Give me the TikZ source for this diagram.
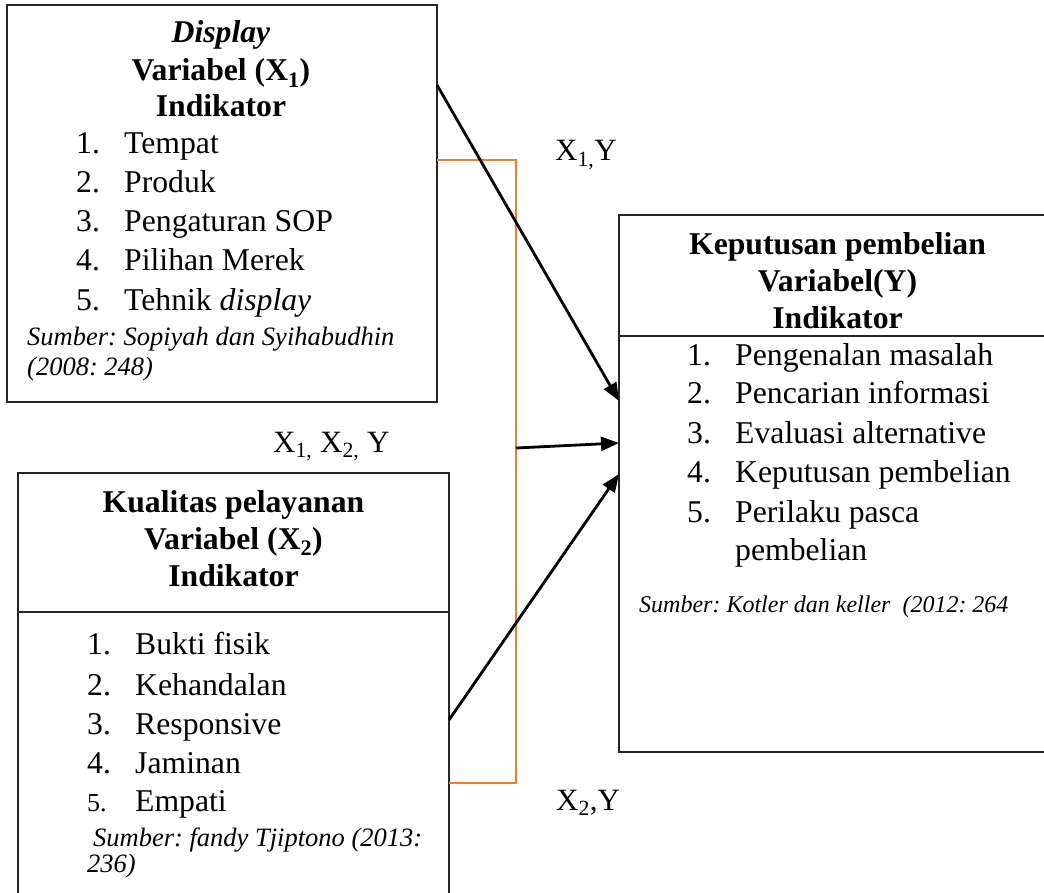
\documentclass[tikz,border=0pt]{standalone}
\usepackage{fontspec}
\setmainfont{Liberation Serif}
\usetikzlibrary{arrows.meta,calc}
\definecolor{bracketorange}{RGB}{237,125,49}
\frenchspacing
\begin{document}
\begin{tikzpicture}[x=1pt,y=-1pt,
  box/.style={draw=black!85, line width=1.5pt, inner sep=0pt, outer sep=0pt},
  divider/.style={draw=black!85, line width=1.5pt},
  txt/.style={inner sep=0pt, anchor=base west, font=\fontsize{31.7}{38}\selectfont},
  hdr/.style={inner sep=0pt, anchor=base, font=\bfseries\fontsize{31.7}{38}\selectfont},
  src/.style={inner sep=0pt, anchor=base west, font=\itshape\fontsize{26.5}{32}\selectfont},
  srcsmall/.style={inner sep=0pt, anchor=base west, font=\itshape\fontsize{24}{30}\selectfont},
  lbl/.style={inner sep=0pt, anchor=base west, font=\fontsize{31}{38}\selectfont},
  link/.style={line width=2.8pt, -{Triangle[length=18pt,width=14pt]}},
  bracket/.style={draw=bracketorange, line width=1.3pt}]
\useasboundingbox (0,0) rectangle (1044,893);
\fill[white] (0,0) rectangle (1044,893);

% ---- boxes
\node[box, minimum width=430pt, minimum height=397pt] (b1) at (222,203.5) {};
\node[box, minimum width=431pt, minimum height=427pt] (b2) at (233.5,686.5) {};
\node[box, minimum width=431pt, minimum height=537pt] (b3) at (834.5,483.5) {};
\draw[divider] (b2.west |- 0,612) -- (b2.east |- 0,612);
\draw[divider] (b3.west |- 0,336) -- (b3.east |- 0,336);

% ---- box 1 : Display
\node[hdr] (h1a) at (221,43) {\textit{Display}};
\node[hdr] (h1b) at (221,81) {Variabel (X\textsubscript{1})};
\node[hdr] (h1c) at (221,117) {Indikator};
\node[txt] (n11) at (76,154) {1.};  \node[txt] (t11) at (124,154) {Tempat};
\node[txt] (n12) at (76,193) {2.};  \node[txt] (t12) at (124,193) {Produk};
\node[txt] (n13) at (76,232) {3.};  \node[txt] (t13) at (124,232) {Pengaturan SOP};
\node[txt] (n14) at (76,271) {4.};  \node[txt] (t14) at (124,271) {Pilihan Merek};
\node[txt] (n15) at (76,310) {5.};  \node[txt] (t15) at (124,310) {Tehnik \textit{display}};
\node[src] (s1a) at (27,345) {Sumber: Sopiyah dan Syihabudhin};
\node[src] (s1b) at (27,375) {(2008: 248)};

% ---- box 2 : Kualitas pelayanan
\node[hdr] (h2a) at (233.5,512) {Kualitas pelayanan};
\node[hdr] (h2b) at (233.5,549) {Variabel (X\textsubscript{2})};
\node[hdr] (h2c) at (233.5,586) {Indikator};
\node[txt] (n21) at (87,654) {1.};  \node[txt] (t21) at (135,654) {Bukti fisik};
\node[txt] (n22) at (87,695) {2.};  \node[txt] (t22) at (135,695) {Kehandalan};
\node[txt] (n23) at (87,734) {3.};  \node[txt] (t23) at (135,734) {Responsive};
\node[txt] (n24) at (87,773) {4.};  \node[txt] (t24) at (135,773) {Jaminan};
\node[txt, font=\fontsize{26}{32}\selectfont] (n25) at (87,811) {5.};
\node[txt] (t25) at (135,811) {Empati};
\node[src] (s2a) at (93,846) {Sumber: fandy Tjiptono (2013:};
\node[src] (s2b) at (87,872) {236)};

% ---- box 3 : Keputusan pembelian
\node[hdr] (h3a) at (837.5,255) {Keputusan pembelian};
\node[hdr] (h3b) at (837.5,291) {Variabel(Y)};
\node[hdr] (h3c) at (837.5,328) {Indikator};
\node[txt] (n31) at (687,365) {1.};  \node[txt] (t31) at (735,365) {Pengenalan masalah};
\node[txt] (n32) at (687,403) {2.};  \node[txt] (t32) at (735,403) {Pencarian informasi};
\node[txt] (n33) at (687,443) {3.};  \node[txt] (t33) at (735,443) {Evaluasi alternative};
\node[txt] (n34) at (687,482) {4.};  \node[txt] (t34) at (735,482) {Keputusan pembelian};
\node[txt] (n35) at (687,522) {5.};  \node[txt] (t35) at (735,522) {Perilaku pasca};
\node[txt] (t35b) at (735,560) {pembelian};
\node[srcsmall] (s3) at (639,612) {Sumber: Kotler dan keller\ \ (2012: 264};

% ---- labels
\node[lbl] (l1) at (555,161) {X\textsubscript{1,}Y};
\node[lbl] (l12) at (273,452) {X\textsubscript{1,} X\textsubscript{2,} Y};
\node[lbl] (l2) at (556,810) {X\textsubscript{2},Y};

% ---- orange bracket
\coordinate (bkTop) at (b1.east |- 0,160);
\coordinate (bkBot) at (b2.east |- 0,783);
\coordinate (bkMid) at (516,448);
\draw[bracket] (bkTop) -- (516,160) -- (516,783) -- (bkBot);

% ---- arrows
\coordinate (a1s) at (b1.east |- 0,85);
\coordinate (a1e) at (b3.west |- 0,401);
\coordinate (a2e) at (b3.west |- 0,443);
\coordinate (a3s) at (b2.east |- 0,720);
\coordinate (a3e) at (b3.west |- 0,474);
\draw[link] (a1s) -- (a1e);
\draw[link] (bkMid) -- (a2e);
\draw[link] (a3s) -- (a3e);
\end{tikzpicture}
\end{document}
